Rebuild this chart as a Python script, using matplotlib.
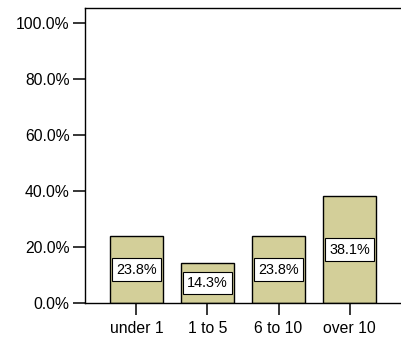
import matplotlib
matplotlib.use("Agg")
import matplotlib.pyplot as plt
from matplotlib.ticker import FuncFormatter

plt.rcParams['font.family'] = ['Liberation Sans', 'DejaVu Sans']

# data
categories = ["under 1", "1 to 5", "6 to 10", "over 10"]
percents = [23.8, 14.3, 23.8, 38.1]
yticks = [0, 20, 40, 60, 80, 100]

fig = plt.figure(figsize=(4.01, 3.51), dpi=100)
ax = fig.add_axes([85 / 401, 1 - 303 / 351, 1 - 85 / 401, (303 - 8) / 351])

x = range(len(categories))
ax.bar(x, percents, width=0.75, color="#d3cf99", edgecolor="black", linewidth=1.0)

for xi, p in zip(x, percents):
    ax.text(xi, p / 2, "%.1f%%" % p, ha="center", va="center", fontsize=10.4,
            bbox=dict(boxstyle="square,pad=0.3", facecolor="white",
                      edgecolor="black", linewidth=0.8))

ax.set_xlim(-0.725, 3.725)
ax.set_ylim(0, 105.36)
ax.set_yticks(yticks)
ax.yaxis.set_major_formatter(FuncFormatter(lambda v, pos: "%.1f%%" % v))
ax.set_xticks(list(x))
ax.set_xticklabels(categories)

ax.spines["right"].set_visible(False)
for s in ["left", "bottom", "top"]:
    ax.spines[s].set_linewidth(1.0)
ax.tick_params(axis="both", direction="out", length=8.5, width=1.1,
               labelsize=11.3, pad=2.5, colors="black")
ax.tick_params(axis="x", pad=4.5)

fig.savefig("out.png", dpi=100)
